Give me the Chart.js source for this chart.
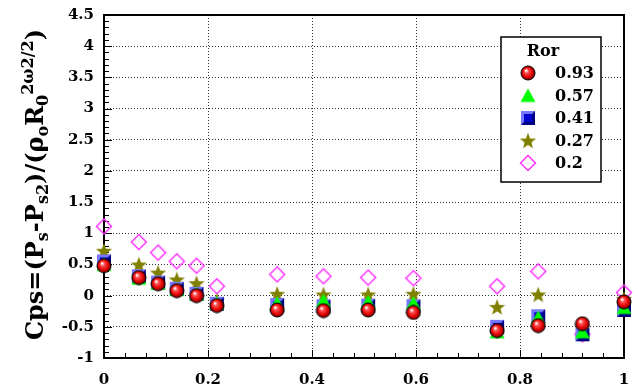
<!DOCTYPE html>
<html>
<head>
<meta charset="utf-8">
<script src="https://cdn.jsdelivr.net/npm/chart.js"></script>
<style>
  body { margin: 0; background: #fff; }
</style>
</head>
<body>
<canvas id="cpsChart" width="639" height="391"></canvas>
<script>
// Datos
var posiciones = [0, 0.067, 0.104, 0.14, 0.178, 0.217, 0.333, 0.422, 0.508, 0.595, 0.756, 0.835, 0.92, 1.0];
var ror093 = [0.48, 0.29, 0.19, 0.08, 0.00, -0.16, -0.23, -0.24, -0.23, -0.27, -0.56, -0.48, -0.45, -0.10];
var ror057 = [0.50, 0.28, 0.20, 0.10, 0.03, -0.12, -0.12, -0.08, -0.10, -0.12, -0.58, -0.35, -0.58, -0.19];
var ror041 = [0.55, 0.31, 0.21, 0.11, 0.03, -0.13, -0.15, -0.17, -0.16, -0.17, -0.50, -0.33, -0.62, -0.23];
var ror027 = [0.72, 0.50, 0.37, 0.26, 0.20, -0.08, 0.03, 0.02, 0.02, 0.03, -0.18, 0.02, -0.50, -0.05];
var ror02 = [1.11, 0.86, 0.69, 0.55, 0.48, 0.15, 0.34, 0.31, 0.29, 0.28, 0.15, 0.39, -0.62, 0.05];

var nombresSeries = ['0.93', '0.57', '0.41', '0.27', '0.2'];
var tituloLeyenda = 'Ror';
var xTickLabels = ['0', '0.2', '0.4', '0.6', '0.8', '1'];
var yTickLabels = ['-1', '-0.5', '0', '0.5', '1', '1.5', '2', '2.5', '3', '3.5', '4', '4.5'];

Chart.defaults.font.family = "'DejaVu Serif', serif";
Chart.defaults.font.weight = 'bold';
Chart.defaults.color = '#000';

// Marcadores dibujados en canvas pequenos
function lienzo(n) {
    var c = document.createElement('canvas');
    c.width = n; c.height = n;
    return c;
}

function esfera() {
    var c = lienzo(16), g = c.getContext('2d');
    var grad = g.createRadialGradient(6, 5.5, 0.5, 8, 8, 7);
    grad.addColorStop(0, '#ffffff');
    grad.addColorStop(0.25, '#ff5050');
    grad.addColorStop(0.7, '#e00000');
    grad.addColorStop(1, '#700000');
    g.beginPath(); g.arc(8, 8, 7, 0, Math.PI * 2);
    g.fillStyle = grad; g.fill();
    g.lineWidth = 1; g.strokeStyle = '#000'; g.stroke();
    return c;
}

function triangulo() {
    var c = lienzo(16), g = c.getContext('2d');
    g.beginPath(); g.moveTo(8, 1); g.lineTo(15.5, 14.5); g.lineTo(0.5, 14.5); g.closePath();
    g.fillStyle = '#00ff00'; g.fill();
    return c;
}

function cuadrado() {
    var c = lienzo(16), g = c.getContext('2d');
    g.fillStyle = '#7878ff'; g.fillRect(1, 1, 14, 14);
    g.fillStyle = '#000080';
    g.beginPath(); g.moveTo(15, 1); g.lineTo(15, 15); g.lineTo(1, 15); g.lineTo(4, 12); g.lineTo(12, 12); g.lineTo(12, 4); g.closePath(); g.fill();
    g.fillStyle = '#0000d0'; g.fillRect(4, 4, 8, 8);
    return c;
}

function estrella() {
    var c = lienzo(18), g = c.getContext('2d');
    g.beginPath();
    for (var i = 0; i < 10; i++) {
        var r = i % 2 === 0 ? 8.5 : 3.6;
        var a = -Math.PI / 2 + i * Math.PI / 5;
        var px = 9 + r * Math.cos(a), py = 9.8 + r * Math.sin(a);
        if (i === 0) g.moveTo(px, py); else g.lineTo(px, py);
    }
    g.closePath();
    g.fillStyle = '#808000'; g.fill();
    return c;
}

function rombo() {
    var c = lienzo(18), g = c.getContext('2d');
    g.beginPath(); g.moveTo(9, 1.5); g.lineTo(16.5, 9); g.lineTo(9, 16.5); g.lineTo(1.5, 9); g.closePath();
    g.lineWidth = 1.5; g.strokeStyle = '#ff33ff'; g.stroke();
    return c;
}

var marcadores = [esfera(), triangulo(), cuadrado(), estrella(), rombo()];
var series = [ror093, ror057, ror041, ror027, ror02];

var datasets = series.map(function (serie, i) {
    return {
        label: nombresSeries[i],
        data: serie.map(function (v, j) { return { x: posiciones[j], y: v }; }),
        pointStyle: marcadores[i],
        showLine: false,
        clip: false
    };
});

var colorGrid = function (ctx) {
    var s = ctx.scale;
    if (!ctx.tick || ctx.tick.value <= s.min + 1e-9 || ctx.tick.value >= s.max - 1e-9) return 'rgba(0,0,0,0)';
    return '#333';
};

// Marco, ticks menores y mayores hacia adentro
var marcoPlugin = {
    id: 'marco',
    beforeDatasetsDraw: function (chart) {
        var c = chart.ctx, a = chart.chartArea;
        var xs = chart.scales.x, ys = chart.scales.y;
        c.save();
        c.strokeStyle = '#000';
        c.lineWidth = 1;
        c.beginPath();
        for (var k = -10; k <= 45; k++) {
            var py = Math.round(ys.getPixelForValue(k / 10)) + 0.5;
            var len = k % 5 === 0 ? 8 : 5;
            c.moveTo(a.left, py); c.lineTo(a.left + len, py);
        }
        for (var m = 0; m <= 25; m++) {
            var px = Math.round(xs.getPixelForValue(m * 0.04)) + 0.5;
            var l2 = m % 5 === 0 ? 8 : 5;
            c.moveTo(px, a.bottom); c.lineTo(px, a.bottom - l2);
        }
        c.stroke();
        c.lineWidth = 2;
        c.strokeRect(a.left, a.top, a.right - a.left, a.bottom - a.top);
        c.restore();
    }
};

// Titulo del eje Y con subindices
var tituloYPlugin = {
    id: 'tituloY',
    afterDraw: function (chart) {
        var c = chart.ctx, a = chart.chartArea;
        var partes = [
            { t: 'Cps=(P', k: 0 }, { t: 's', k: -1 }, { t: '-P', k: 0 }, { t: 's2', k: -1 },
            { t: ')/(ρ', k: 0 }, { t: 'o', k: -1 }, { t: 'R', k: 0 }, { t: '0', k: -1 },
            { t: '2ω2/2', k: 1 }, { t: ')', k: 0 }
        ];
        var grande = "bold 24px 'DejaVu Serif', serif", chico = "bold 16px 'DejaVu Serif', serif";
        c.save();
        var total = 0;
        partes.forEach(function (p) { c.font = p.k === 0 ? grande : chico; p.w = c.measureText(p.t).width; total += p.w; });
        c.translate(43, (a.top + a.bottom) / 2 - 2);
        c.rotate(-Math.PI / 2);
        c.fillStyle = '#000';
        c.textBaseline = 'alphabetic';
        var x = -total / 2;
        partes.forEach(function (p) {
            c.font = p.k === 0 ? grande : chico;
            var dy = p.k === -1 ? 5 : (p.k === 1 ? -10 : 0);
            c.fillText(p.t, x, dy);
            x += p.w;
        });
        c.restore();
    }
};

// Leyenda con recuadro
var leyendaPlugin = {
    id: 'leyendaRor',
    afterDraw: function (chart) {
        var c = chart.ctx, a = chart.chartArea;
        var x0 = a.right - 123, y0 = a.top + 22, w = 100, h = 145;
        c.save();
        c.fillStyle = '#fff';
        c.fillRect(x0, y0, w, h);
        c.lineWidth = 1.5; c.strokeStyle = '#000';
        c.strokeRect(x0, y0, w, h);
        c.fillStyle = '#000';
        c.font = "bold 16px 'DejaVu Serif', serif";
        c.textAlign = 'center'; c.textBaseline = 'middle';
        c.fillText(tituloLeyenda, x0 + 42, y0 + 15);
        c.textAlign = 'left';
        chart.data.datasets.forEach(function (ds, i) {
            var yy = y0 + 36 + i * 22.5;
            var img = ds.pointStyle;
            c.drawImage(img, x0 + 27 - img.width / 2, yy - img.height / 2);
            c.fillText(ds.label, x0 + 54, yy + 1);
        });
        c.restore();
    }
};

var ctx = document.getElementById('cpsChart').getContext('2d');
var grafico = new Chart(ctx, {
    type: 'scatter',
    data: { datasets: datasets },
    options: {
        responsive: false,
        animation: false,
        devicePixelRatio: 1,
        layout: { padding: { left: 0, right: 15, top: 15, bottom: 0 }, autoPadding: false },
        plugins: { legend: { display: false }, tooltip: { enabled: false } },
        scales: {
            x: {
                type: 'linear', min: 0, max: 1,
                afterFit: function (s) { s.height = 33; s.paddingLeft = 0; s.paddingRight = 0; },
                border: { display: false, dash: [1, 2] },
                grid: { color: colorGrid, drawTicks: false, lineWidth: 1 },
                ticks: {
                    stepSize: 0.2, padding: 13, maxRotation: 0,
                    font: { size: 15, weight: 'bold' },
                    callback: function (v, i) { return xTickLabels[i]; }
                }
            },
            y: {
                type: 'linear', min: -1, max: 4.5,
                afterFit: function (s) { s.width = 104; s.paddingTop = 0; s.paddingBottom = 0; },
                border: { display: false, dash: [1, 2] },
                grid: { color: colorGrid, drawTicks: false, lineWidth: 1 },
                ticks: {
                    stepSize: 0.5, padding: 10,
                    font: { size: 15, weight: 'bold' },
                    callback: function (v, i) { return yTickLabels[i]; }
                }
            }
        }
    },
    plugins: [marcoPlugin, tituloYPlugin, leyendaPlugin]
});
</script>
</body>
</html>
